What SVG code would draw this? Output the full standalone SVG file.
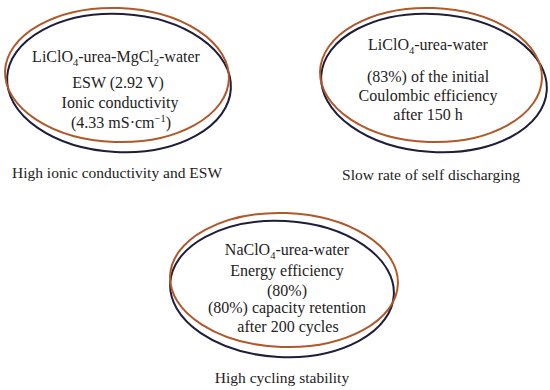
<svg xmlns="http://www.w3.org/2000/svg" width="550" height="390" viewBox="0 0 550 390">
<style>
.b{fill:none;stroke:#b0582a;stroke-width:2}
.n{fill:none;stroke:#1e1e3a;stroke-width:2}
text{font-family:"Liberation Serif","Times New Roman",serif;font-size:16px;fill:#222;text-anchor:middle}
.c{font-size:15.5px}
.s{font-size:10.5px}
</style>
<rect width="550" height="390" fill="#fff"/>
<g id="node1">
<ellipse class="n" cx="119" cy="83" rx="112" ry="69" transform="rotate(3 119 83)"/>
<ellipse class="b" cx="117" cy="75" rx="112" ry="67" transform="rotate(2 117 75)"/>
<text x="116" y="62">LiClO<tspan class="s" dy="4">4</tspan><tspan dy="-4">-urea-MgCl</tspan><tspan class="s" dy="4">2</tspan><tspan dy="-4">-water</tspan></text>
<text x="118" y="88">ESW (2.92 V)</text>
<text x="120" y="108">Ionic conductivity</text>
<text x="121" y="128">(4.33 mS·cm<tspan class="s" dy="-6">−1</tspan><tspan dy="6">)</tspan></text>
<text class="c" x="117" y="178">High ionic conductivity and ESW</text>
</g>
<g id="node2">
<ellipse class="n" cx="434" cy="83" rx="113" ry="69" transform="rotate(4 434 83)"/>
<ellipse class="b" cx="431" cy="75" rx="111" ry="67" transform="rotate(2 431 75)"/>
<text x="428" y="50">LiClO<tspan class="s" dy="4">4</tspan><tspan dy="-4">-urea-water</tspan></text>
<text x="428" y="82">(83%) of the initial</text>
<text x="428" y="101">Coulombic efficiency</text>
<text x="428" y="120">after 150 h</text>
<text class="c" x="431" y="180">Slow rate of self discharging</text>
</g>
<g id="node3">
<ellipse class="n" cx="282" cy="289" rx="112" ry="68" transform="rotate(3 282 289)"/>
<ellipse class="b" cx="284" cy="280" rx="114" ry="67" transform="rotate(2 284 280)"/>
<text x="287" y="255">NaClO<tspan class="s" dy="4">4</tspan><tspan dy="-4">-urea-water</tspan></text>
<text x="287" y="276">Energy efficiency</text>
<text x="287" y="296">(80%)</text>
<text x="287" y="313">(80%) capacity retention</text>
<text x="288" y="332">after 200 cycles</text>
<text class="c" x="282" y="383">High cycling stability</text>
</g>
<g id="connectors"/>
</svg>
